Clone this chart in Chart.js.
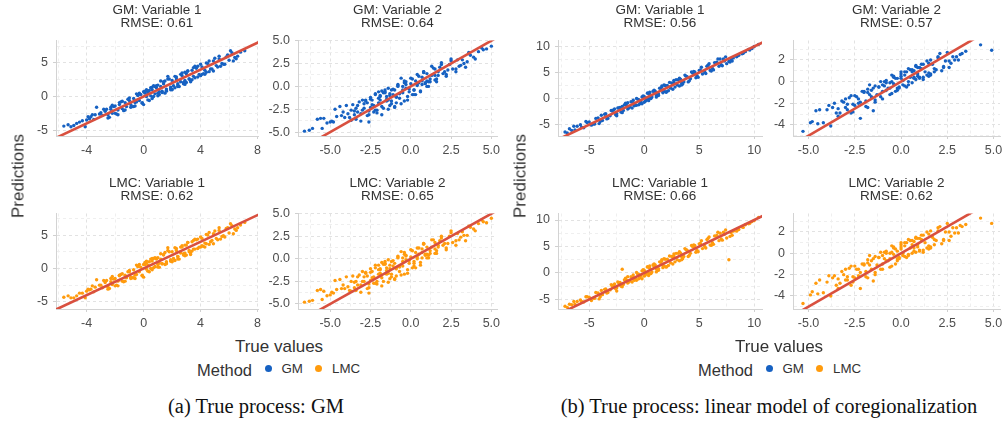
<!DOCTYPE html>
<html>
<head>
<meta charset="utf-8">
<script src="https://cdn.jsdelivr.net/npm/chart.js@4.4.1/dist/chart.umd.min.js"></script>
<style>
  body { margin: 0; width: 1005px; height: 424px; position: relative; overflow: hidden; background: #fff; font-family: "Liberation Sans", Arial, sans-serif; color: #333; }
  canvas.plot { position: absolute; }
  .ttl { position: absolute; transform: translateX(-50%); text-align: center; font-size: 13.5px; line-height: 13.7px; color: #333; white-space: nowrap; }
  .axt { position: absolute; font-size: 17px; line-height: 17px; color: #333; white-space: nowrap; }
  .ylab { transform: translate(-50%, -50%) rotate(-90deg); }
  .xlab { transform: translateX(-50%); }
  .leg { position: absolute; white-space: nowrap; color: #333; }
  .leg.m { font-size: 16.5px; line-height: 16.5px; }
  .leg.k { font-size: 13.3px; line-height: 13px; }
  .leg.dot { width: 7px; height: 7px; border-radius: 50%; }
  .cap { position: absolute; transform: translateX(-50%); font-family: "Liberation Serif", "Times New Roman", serif; font-size: 20.5px; line-height: 20.5px; color: #111; white-space: nowrap; }
</style>
</head>
<body>
<script>
// (a) true process GM: true values and predictions of each method
const truthA1 = [-5.6,-5.1,-4.7,-4.3,-4.0,-3.8,-3.5,-3.3,-3.1,-2.9, -2.7,-2.5,-2.3,-2.2,-2.0,-1.8,-1.7,-1.5,-1.3,-1.2, -1.0,-0.9,-0.7,-0.6,-0.4,-0.3,-0.2,0.0,0.1,0.2, 0.4,0.5,0.6,0.8,0.9,1.0,1.2,1.3,1.4,1.6, 1.7,1.9,2.0,2.1,2.3,2.4,2.6,2.7,2.9,3.0, 3.2,3.4,3.5,3.7,3.9,4.1,4.3,4.5,4.7,4.9, 5.1,5.3,5.5,5.8,6.0,6.2,6.5,6.8,7.1,1.1, 0.3,-0.5,
  -4.5,-3.9,-3.6,-3.0,-2.6,-2.4,-2.1,-1.9,-1.6,-1.4, -1.1,-0.8,-0.5,-0.1,0.2,0.3,0.5,0.7,0.9,1.1, 1.3,1.5,1.6,1.8,2.0,2.2,2.3,2.5,2.6,2.8, 3.0,3.1,3.3,3.6,3.8,4.0,4.2,4.4,4.6,4.8, 5.0,5.2,5.6,5.9,6.3,6.6,-0.3,0.6,1.9,2.9, 1.0,-1.5,3.4,0.0,-2.3,4.1,1.4,2.4,-0.9,0.8,
  -5.3,-4.9,-4.1,-3.4,-2.8,-2.5,-2.0,-1.7,-1.3,-1.0, -0.7,-0.4,-0.1,0.2,0.4,0.7,1.0,1.2,1.5,1.7, 2.0,2.2,2.4,2.7,2.9,3.1,3.3,3.5,3.8,4.0, 4.3,4.6,4.9,5.3,5.7,6.1,6.4,-3.7,-2.2,-0.6, 0.6,1.6,2.8,3.6,4.4,5.4,0.1,1.9,-1.8,3.2];
const gmPredA1 = [-4.4,-4.5,-4.0,-3.6,-3.5,-3.3,-3.4,-1.6,-2.6,-2.8, -2.2,-2.7,-1.9,-2.5,-1.4,-2.0,-1.2,-1.8,-0.9,-1.5, -0.6,-1.2,-0.3,-0.9,0.2,-0.6,0.3,-1.2,0.5,0.0, 0.9,0.1,1.0,0.4,1.3,0.5,1.5,0.8,1.9,1.1, 3.0,1.4,2.4,1.6,2.6,1.9,2.2,3.1,2.4,3.4, 2.6,3.9,3.0,4.2,3.3,4.4,3.9,4.9,4.1,5.3, 4.6,5.6,4.9,5.9,5.4,6.5,5.6,6.6,6.8,0.7, 0.6,-0.8,
  -3.8,-3.0,-2.7,-2.4,-1.9,-3.1,-1.5,-2.6,-0.8,-2.1, -0.4,-1.5,0.4,-0.9,0.9,-0.5,1.3,0.0,1.6,0.3, 0.6,2.3,0.8,2.6,1.0,1.3,2.9,1.5,3.3,1.9, 2.1,3.8,2.4,2.8,4.5,3.1,3.4,5.0,3.7,4.1, 5.7,4.4,4.8,6.2,5.3,6.0,0.5,-0.3,1.0,3.6, 1.7,-0.7,2.5,0.7,-1.6,3.3,2.2,1.7,-1.6,1.5,
  -4.2,-4.3,-4.5,-2.7,-1.9,-3.2,-2.5,-0.9,-2.0,-0.2, -1.5,0.2,-1.0,1.0,-0.6,1.6,0.1,2.3,0.5,2.6, 1.1,3.0,1.5,3.5,1.8,3.8,2.2,4.3,2.9,4.8, 3.3,5.3,3.8,6.0,4.8,6.8,5.8,-3.0,-1.3,-1.4, 1.4,0.9,2.1,4.5,3.6,4.5,0.8,1.2,-2.7,2.6];
const lmcPredA1 = [-4.3,-4.4,-4.1,-3.7,-3.4,-3.2,-3.5,-1.7,-2.5,-2.9, -2.1,-2.8,-2.0,-2.4,-1.5,-1.9,-1.1,-1.9,-1.0,-1.4, -0.5,-1.3,-0.2,-1.0,0.3,-0.5,0.2,-1.3,0.6,-0.1, 1.0,0.0,1.1,0.3,1.4,0.6,1.4,0.7,2.0,1.0, 3.1,1.3,2.5,1.5,2.7,1.8,2.3,3.2,2.3,3.5, 2.5,4.0,2.9,4.3,3.2,4.5,3.8,5.0,4.0,5.2, 4.5,5.7,4.8,6.0,5.3,6.4,5.7,6.5,6.9,0.8, 0.5,-0.9,
  -3.7,-3.1,-2.6,-2.5,-1.8,-3.0,-1.6,-2.5,-0.9,-2.0, -0.5,-1.4,0.5,-1.0,0.8,-0.4,1.4,0.1,1.5,0.2, 0.7,2.4,0.7,2.5,1.1,1.2,3.0,1.4,3.2,2.0, 2.0,3.9,2.3,2.9,4.4,3.2,3.3,5.1,3.6,4.2, 5.6,4.3,4.9,6.1,5.2,6.1,0.6,-0.2,1.1,3.5, 1.6,-0.8,2.6,0.6,-1.5,3.4,2.1,1.8,-1.5,1.6,
  -4.1,-4.4,-4.4,-2.8,-1.8,-3.1,-2.6,-1.0,-1.9,-0.3, -1.4,0.3,-1.1,1.1,-0.5,1.5,0.2,2.2,0.6,2.7, 1.0,3.1,1.4,3.4,1.9,3.9,2.1,4.2,3.0,4.7, 3.2,5.4,3.7,6.1,4.7,6.7,5.9,-3.1,-1.2,-1.5, 1.5,0.8,2.2,4.4,3.7,4.4,0.9,1.1,-2.6,2.7];

const truthA2 = [-6.6,-6.1,-5.6,-5.5,-5.2,-4.9,-4.6,-4.4,-4.1,-3.9, -3.7,-3.5,-3.3,-3.1,-2.9,-2.8,-2.6,-2.5,-2.3,-2.2, -2.0,-1.9,-1.8,-1.6,-1.5,-1.3,-1.2,-1.1,-0.9,-0.8, -0.7,-0.5,-0.4,-0.3,-0.1,0.0,0.1,0.3,0.4,0.5, 0.7,0.8,1.0,1.1,1.3,1.5,1.6,1.8,2.0,2.2, 2.4,2.6,2.9,3.1,3.4,3.7,4.0,4.4,4.7,5.0, -1.7,-1.0,-0.6,-2.7,-3.0,0.2,0.9,-1.4,-2.1,1.2,
  -5.8,-5.0,-4.7,-4.3,-4.0,-3.8,-3.6,-3.4,-3.2,-3.0, -2.8,-2.7,-2.5,-2.4,-2.2,-2.1,-1.9,-1.8,-1.7,-1.5, -1.4,-1.2,-1.1,-1.0,-0.8,-0.7,-0.5,-0.4,-0.2,-0.1, 0.1,0.2,0.4,0.6,0.7,0.9,1.0,1.2,1.4,1.5, 1.7,1.9,2.1,2.3,2.5,2.8,3.0,3.3,3.6,4.2, -2.0,-1.3,-0.3,0.3,-2.6,-3.5,0.8,-1.6,1.1,-0.9,
  -6.3,-5.4,-4.8,-4.2,-3.7,-3.4,-3.1,-2.9,-2.6,-2.4, -2.2,-2.0,-1.8,-1.6,-1.4,-1.2,-1.0,-0.8,-0.6,-0.4, -0.2,0.0,0.2,0.4,0.6,0.8,1.0,1.3,1.6,1.9, 2.2,2.5,2.8,3.2,3.5,3.9,4.5,-2.5,-1.5,-0.5, 0.5,1.5,-3.3,-2.3,-1.3,-0.3,0.7,1.7,-1.9,-0.9];
const gmPredA2 = [-4.9,-4.6,-3.5,-4.6,-4.0,-3.8,-3.3,-2.2,-3.4,-3.0, -2.6,-3.1,-2.1,-3.0,-2.4,-1.6,-2.7,-1.4,-2.1,-0.9, -1.8,-1.1,-2.2,-0.6,-1.6,-0.8,-1.9,-0.3,-1.2,0.2, -0.8,0.0,-1.6,0.5,-0.3,0.3,-0.9,0.6,0.1,1.1, 0.2,1.5,0.6,0.0,1.2,1.9,0.8,2.1,1.4,1.3, 2.4,1.9,2.9,2.3,2.1,3.4,3.0,4.2,4.1,4.4, -0.7,-0.4,0.9,-1.8,-1.5,-0.4,0.4,-1.5,-2.6,0.8,
  -3.6,-3.9,-2.5,-3.2,-2.1,-3.4,-2.0,-3.6,-1.7,-2.6, -1.5,-3.2,-1.2,-2.0,-0.8,-2.9,-1.0,-0.5,-2.4,-1.1, -0.2,-1.6,-0.9,-2.3,0.1,-1.3,-0.4,0.6,-1.1,-0.6, 0.8,-0.4,0.3,-0.5,1.0,0.3,1.4,0.5,2.0,0.7, 1.2,2.4,1.6,1.8,2.8,1.9,2.2,2.5,3.7,3.8, -1.3,-2.1,0.2,-0.9,-3.1,-2.7,1.6,-0.4,0.5,-1.8,
  -4.8,-3.5,-3.9,-2.8,-3.7,-2.4,-3.8,-1.9,-3.9,-1.5, -2.6,-0.6,-3.1,-0.7,-2.5,-0.4,-2.2,0.0,-1.9,0.4, -1.5,0.9,-0.9,1.3,-0.6,1.6,0.0,2.2,0.5,2.6, 1.1,3.0,1.6,2.9,2.7,3.2,4.0,-2.3,-1.4,-0.7, 0.4,1.2,-2.8,-2.8,-1.0,-0.2,0.6,1.6,-1.5,-1.1];
const lmcPredA2 = [-4.8,-4.6,-3.4,-4.5,-4.1,-3.7,-3.4,-2.3,-3.3,-3.1, -2.5,-3.2,-2.0,-2.9,-2.5,-1.5,-2.8,-1.5,-2.0,-1.0, -1.7,-1.2,-2.1,-0.5,-1.7,-0.7,-2.0,-0.2,-1.1,0.3, -0.9,0.1,-1.7,0.4,-0.2,0.2,-1.0,0.7,0.0,1.2, 0.1,1.6,0.5,0.1,1.3,1.8,0.9,2.0,1.5,1.2, 2.5,1.8,2.8,2.4,2.0,3.5,3.1,4.3,4.0,4.5, -0.6,-0.5,0.8,-1.9,-1.4,-0.3,0.5,-1.6,-2.5,0.9,
  -3.5,-4.0,-2.4,-3.3,-2.0,-3.5,-1.9,-3.5,-1.8,-2.5, -1.6,-3.3,-1.1,-2.1,-0.7,-2.8,-1.1,-0.4,-2.5,-1.0, -0.1,-1.7,-0.8,-2.2,0.2,-1.4,-0.3,0.7,-1.2,-0.5, 0.9,-0.5,0.2,-0.4,1.1,0.4,1.3,0.6,2.1,0.6, 1.3,2.3,1.7,1.7,2.9,2.0,2.1,2.6,3.6,3.9, -1.2,-2.2,0.3,-1.0,-3.2,-2.6,1.7,-0.3,0.4,-1.9,
  -4.7,-3.6,-3.8,-2.9,-3.6,-2.5,-3.7,-2.0,-3.8,-1.4, -2.7,-0.7,-3.0,-0.6,-2.6,-0.3,-2.3,0.1,-1.8,0.5, -1.6,1.0,-0.8,1.2,-0.7,1.7,0.1,2.1,0.6,2.5, 1.0,3.1,1.5,3.0,2.6,3.3,4.1,-2.4,-1.3,-0.8, 0.5,1.1,-2.9,-2.7,-1.1,-0.1,0.7,1.5,-1.6,-1.0];

// (b) true process: linear model of coregionalization
const truthB1 = [-7.2,-6.6,-6.1,-5.5,-5.0,-4.6,-4.2,-3.8,-3.5,-3.1, -2.8,-2.5,-2.2,-1.9,-1.6,-1.3,-1.0,-0.8,-0.5,-0.3, 0.0,0.2,0.5,0.7,1.0,1.3,1.5,1.8,2.1,2.4, 2.7,3.0,3.3,3.6,3.9,4.2,4.5,4.8,5.1,5.5, 5.8,6.2,6.6,7.0,7.3,7.7,8.1,8.6,9.2,10.0, -0.2,0.4,1.1,-1.4,2.6,-2.0,3.4,0.9,-0.9,1.7, 10.4,6.9,
  -6.8,-6.3,-5.8,-5.2,-4.8,-4.4,-4.0,-3.6,-3.3,-2.9, -2.6,-2.3,-2.1,-1.8,-1.5,-1.2,-0.9,-0.6,-0.4,-0.1, 0.1,0.3,0.6,0.8,1.2,1.4,1.7,1.9,2.2,2.5, 2.8,3.1,3.5,3.8,4.1,4.4,4.7,5.0,5.3,5.7, 6.0,6.4,6.8,7.2,7.5,7.9,8.4,8.9,9.5,9.8, 0.0,-1.0,1.6,2.0,-2.4,3.2,-0.7,0.5,4.6,-3.0,
  -7.0,-6.4,-5.7,-5.3,-4.5,-3.9,-3.4,-2.7,-2.0,-1.7, -1.1,-0.7,-0.2,0.3,0.6,0.9,1.3,1.6,2.0,2.3, 2.6,2.9,3.2,3.7,4.0,4.3,4.9,5.2,5.6,5.9, 6.3,6.7,7.1,7.4,8.0,8.5,9.0,9.6,-4.1,-1.5, 0.4,1.8,3.4,4.5,6.1,-2.5,-0.5,1.1,2.7,7.8];
const gmPredB1 = [-6.4,-6.1,-5.3,-5.6,-4.5,-4.9,-3.7,-4.2,-2.9,-3.3, -2.2,-2.9,-1.7,-2.3,-1.3,-1.6,-0.8,-1.2,-0.2,-0.6, 0.4,-0.2,0.8,0.3,1.4,0.9,1.9,1.4,2.5,2.0, 3.1,2.6,3.7,3.2,4.2,3.8,4.9,4.4,5.5,5.1, 6.4,5.8,7.0,6.5,7.2,7.1,7.8,8.3,9.0,10.0, 0.3,0.0,0.7,-1.8,2.9,-1.5,3.0,1.3,-1.3,1.3, 10.4,7.6,
  -5.8,-6.0,-5.0,-4.6,-5.1,-3.8,-4.4,-3.0,-3.8,-2.4, -3.1,-1.8,-2.6,-1.2,-2.0,-0.6,-1.4,-0.1,-1.0,0.5, -0.5,1.0,0.0,1.4,0.6,2.0,1.1,2.5,1.5,3.0, 2.2,3.6,2.8,4.3,3.4,4.9,4.0,5.4,4.7,6.2, 5.4,6.9,6.2,7.6,6.7,7.5,8.0,8.6,9.4,9.6, -0.7,-0.3,2.2,1.2,-1.8,3.9,-1.3,1.2,5.1,-2.3,
  -6.6,-5.3,-5.5,-4.4,-4.9,-3.2,-3.9,-2.0,-2.7,-0.9, -1.8,0.0,-1.0,1.1,0.0,1.6,0.6,2.4,1.3,3.1, 1.8,3.6,2.4,4.5,3.2,5.1,4.1,6.0,4.8,6.7, 5.5,7.6,6.3,8.0,7.2,8.2,8.7,9.3,-4.8,-0.8, -0.4,2.6,2.6,5.2,5.3,-3.3,-1.2,0.3,3.5,7.0];
const lmcPredB1 = [-6.3,-6.0,-5.4,-5.5,-4.6,-4.8,-3.8,-4.1,-3.0,-3.2, -2.3,-2.8,-1.8,-2.2,-1.4,-1.5,-0.9,-1.1,-0.3,-0.5, 0.5,-0.1,0.9,0.2,1.5,0.8,2.0,1.3,2.6,1.9, 3.2,2.5,3.8,3.1,4.3,3.7,5.0,4.3,5.6,5.0, 6.5,5.7,7.1,6.4,7.3,2.5,7.9,8.2,9.1,9.9, 0.4,-0.1,0.8,-1.7,3.0,0.7,3.1,1.2,-1.4,1.4, 10.5,7.5,
  -5.9,-5.9,-5.1,-4.5,-5.2,-3.7,-4.5,-3.1,-3.7,-2.5, -3.0,-1.9,-2.5,-1.3,-1.9,-0.7,-1.3,-0.2,-0.9,0.6, -0.4,1.1,-0.1,1.5,0.5,2.1,1.0,2.6,1.4,3.1, 2.1,3.7,2.7,4.4,3.3,5.0,3.9,5.5,4.6,6.3, 5.3,7.0,6.1,7.7,6.6,7.6,7.9,8.7,9.3,9.7, -0.6,-0.4,2.3,1.1,-1.7,4.0,-1.4,1.3,5.2,-2.2,
  -6.5,-5.4,-5.4,-4.5,-4.8,-3.3,-3.8,-2.1,-2.6,-1.0, -1.7,0.1,-1.1,1.2,-0.1,1.7,0.5,2.5,1.2,3.2, 1.7,3.7,2.3,4.6,3.1,5.2,4.0,6.1,4.7,6.8, 5.4,7.7,6.2,8.1,7.1,8.3,8.6,9.4,-4.9,-0.7, -0.5,2.7,2.5,5.3,5.2,-3.4,-1.1,0.2,3.6,6.9];

const truthB2 = [-5.3,-4.8,-4.5,-4.0,-3.8,-3.6,-3.3,-3.1,-2.9,-2.7, -2.5,-2.3,-2.1,-1.9,-1.8,-1.6,-1.4,-1.3,-1.1,-1.0, -0.8,-0.7,-0.5,-0.4,-0.2,-0.1,0.0,0.1,0.3,0.4, 0.5,0.7,0.8,0.9,1.1,1.2,1.4,1.5,1.7,1.9, 2.1,2.3,2.5,2.7,3.0,3.3,4.3,4.9,-0.6,0.2, 0.6,-1.5,-2.2,1.0,-0.3,0.9,-3.4,-2.6,1.6,0.0,
  -4.6,-4.2,-3.9,-3.5,-3.2,-3.0,-2.8,-2.6,-2.4,-2.2, -2.0,-1.9,-1.7,-1.5,-1.4,-1.2,-1.1,-0.9,-0.8,-0.6, -0.5,-0.3,-0.2,0.0,0.1,0.2,0.4,0.5,0.6,0.8, 0.9,1.0,1.2,1.3,1.5,1.6,1.8,2.0,2.2,2.4, 2.6,2.8,3.1,3.5,-1.0,-0.4,0.3,0.7,1.1,-1.8,
  -4.9,-4.4,-3.7,-3.4,-3.0,-2.7,-2.5,-2.3,-2.0,-1.8, -1.6,-1.4,-1.2,-1.0,-0.8,-0.6,-0.4,-0.2,0.0,0.2, 0.4,0.6,0.8,1.0,1.2,1.4,1.6,1.8,2.0,2.3, 2.6,2.9,3.2,-2.9,-1.7,-0.9,-0.1,0.7,1.5,-0.5];
const gmPredB2 = [-4.6,-3.7,-3.9,-2.6,-4.1,-2.0,-2.9,-1.9,-2.6,-1.3, -2.2,-1.6,-0.9,-1.8,-0.7,-1.4,-0.4,-1.2,0.0,-0.9, -0.1,-0.6,0.6,-0.2,0.3,-0.5,0.7,0.1,0.9,-0.3, 1.1,0.3,1.5,0.5,1.2,0.2,1.9,0.8,1.6,1.1, 2.6,1.4,2.7,1.7,2.3,2.6,3.4,2.9,-0.6,0.6, 0.9,-2.7,-3.4,0.4,-0.9,1.3,-2.5,-2.1,0.7,0.3,
  -2.7,-3.8,-2.2,-2.9,-1.8,-2.4,-1.5,-2.8,-1.4,-1.9, -0.9,-2.3,-1.2,-0.6,-1.7,-0.5,-1.4,0.0,-0.8,-0.1, -1.1,0.3,-0.6,0.5,-0.3,0.9,0.0,0.4,1.1,0.2, 0.7,1.3,0.4,0.9,1.7,0.6,1.2,2.2,1.0,1.9, 1.3,2.3,2.0,2.8,-0.3,0.4,-0.5,0.4,1.6,-1.0,
  -3.8,-2.6,-2.4,-3.2,-1.6,-2.9,-1.3,-2.0,-1.0,-2.4, -0.8,-1.9,-0.5,-1.6,0.1,-1.2,0.5,-0.8,0.9,-0.4, 1.2,-0.1,1.4,0.3,1.6,0.6,2.0,0.9,2.3,1.3, 1.9,2.0,2.5,-2.1,-0.3,-0.4,-0.6,1.0,0.5,0.0];
const lmcPredB2 = [-4.7,-3.6,-3.8,-2.7,-4.0,-2.1,-2.8,-2.0,-2.5,-1.2, -2.3,-1.5,-1.0,-1.7,-0.6,-1.5,-0.3,-1.1,0.1,-1.0, 0.0,-0.7,0.7,-0.1,0.2,-0.4,0.8,0.0,1.0,-0.2, 1.2,0.2,1.4,0.6,1.3,0.1,2.0,0.7,1.5,1.2, 2.5,1.3,2.8,1.6,2.4,2.5,3.3,2.8,-0.5,0.7, 0.8,-2.6,-3.3,0.3,-1.0,1.4,-2.4,-2.2,0.6,0.4,
  -2.8,-3.7,-2.1,-3.0,-1.7,-2.5,-1.4,-2.7,-1.5,-1.8, -1.0,-2.2,-1.1,-0.5,-1.8,-0.4,-1.5,0.1,-0.7,0.0, -1.2,0.4,-0.5,0.6,-0.2,1.0,-0.1,0.5,1.2,0.1, 0.8,1.4,0.3,1.0,1.8,0.5,1.3,2.1,0.9,2.0, 1.2,2.4,1.9,2.7,-0.2,0.5,-0.4,0.5,1.7,-0.9,
  -3.9,-2.5,-2.3,-3.3,-1.5,-3.0,-1.2,-2.1,-1.1,-2.3, -0.7,-2.0,-0.4,-1.5,0.2,-1.3,0.6,-0.7,1.0,-0.3, 1.3,0.0,1.5,0.2,1.7,0.5,2.1,0.8,2.4,1.2, 2.0,1.9,2.6,-2.2,-0.2,-0.5,-0.5,1.1,0.4,0.1];

const rmseA = [0.61, 0.64, 0.62, 0.65];
const rmseB = [0.56, 0.57, 0.66, 0.62];

// tick labels
const xTicksV1A = ['-4', '0', '4', '8'];
const yTicksV1A = ['-5', '0', '5'];
const ticksV2 = ['-5.0', '-2.5', '0.0', '2.5', '5.0'];
const ticksV1B = ['-5', '0', '5', '10'];
const yTicksV2B = ['-4', '-2', '0', '2'];

const BLUE = '#1661c2';
const ORANGE = '#ff9b0d';
const RED = '#d9503f';

const panels = [
  { name: 'GM: Variable 1',  rmse: rmseA[0], xs: truthA1, ys: gmPredA1,  color: BLUE,   left: 56,  top: 38,  w: 202, h: 98, xLim: [-6.15, 8.03], yLim: [-5.87, 8.33], xT: xTicksV1A, yT: yTicksV1A },
  { name: 'GM: Variable 2',  rmse: rmseA[1], xs: truthA2, ys: gmPredA2,  color: BLUE,   left: 298, top: 38,  w: 199, h: 98, xLim: [-7.0, 5.35],  yLim: [-5.43, 5.02], xT: ticksV2,   yT: ticksV2 },
  { name: 'LMC: Variable 1', rmse: rmseA[2], xs: truthA1, ys: lmcPredA1, color: ORANGE, left: 56,  top: 211, w: 202, h: 98, xLim: [-6.15, 8.03], yLim: [-6.07, 8.23], xT: xTicksV1A, yT: yTicksV1A },
  { name: 'LMC: Variable 2', rmse: rmseA[3], xs: truthA2, ys: lmcPredA2, color: ORANGE, left: 298, top: 211, w: 199, h: 98, xLim: [-7.0, 5.35],  yLim: [-5.56, 5.02], xT: ticksV2,   yT: ticksV2 },
  { name: 'GM: Variable 1',  rmse: rmseB[0], xs: truthB1, ys: gmPredB1,  color: BLUE,   left: 558, top: 38,  w: 204, h: 98, xLim: [-7.84, 10.71], yLim: [-7.18, 11.14], xT: ticksV1B, yT: ticksV1B },
  { name: 'GM: Variable 2',  rmse: rmseB[1], xs: truthB2, ys: gmPredB2,  color: BLUE,   left: 793, top: 38,  w: 207, h: 98, xLim: [-5.84, 5.35],  yLim: [-5.03, 3.80],  xT: ticksV2,  yT: yTicksV2B },
  { name: 'LMC: Variable 1', rmse: rmseB[2], xs: truthB1, ys: lmcPredB1, color: ORANGE, left: 558, top: 211, w: 204, h: 98, xLim: [-7.84, 10.71], yLim: [-6.81, 11.23], xT: ticksV1B, yT: ticksV1B },
  { name: 'LMC: Variable 2', rmse: rmseB[3], xs: truthB2, ys: lmcPredB2, color: ORANGE, left: 793, top: 211, w: 207, h: 98, xLim: [-5.84, 5.35],  yLim: [-5.22, 3.73],  xT: ticksV2,  yT: yTicksV2B }
];

const tickFont = { family: '"Liberation Sans", Arial, sans-serif', size: 12.5 };

function makeAxis(lim, labels, fitKey, fitVal, pad) {
  const majors = labels.map(Number);
  const step = majors[1] - majors[0];
  const minors = [majors[0] - step / 2].concat(majors.map(v => v + step / 2));
  const all = majors.concat(minors).filter(v => v >= lim[0] - 1e-9 && v <= lim[1] + 1e-9).sort((a, b) => a - b);
  const majorIndex = v => majors.findIndex(m => Math.abs(m - v) < 1e-6);
  return {
    type: 'linear',
    min: lim[0],
    max: lim[1],
    afterBuildTicks: s => { s.ticks = all.map(v => ({ value: v })); },
    afterFit: s => { s[fitKey] = fitVal; },
    ticks: {
      autoSkip: false,
      maxRotation: 0,
      padding: pad,
      color: '#4d4d4d',
      font: tickFont,
      callback: v => { const i = majorIndex(v); return i < 0 ? '' : labels[i]; }
    },
    grid: {
      lineWidth: 1,
      color: c => (c.tick && majorIndex(c.tick.value) >= 0) ? '#e2e2e2' : '#efefef',
      tickColor: c => (c.tick && majorIndex(c.tick.value) >= 0) ? '#d0d0d0' : 'rgba(0,0,0,0)',
      tickLength: 3
    },
    border: { color: '#d3d3d3', width: 1, dash: [3, 3] }
  };
}

function addText(cls, text, left, top, style) {
  const d = document.createElement('div');
  d.className = cls;
  d.textContent = text;
  d.style.left = left + 'px';
  d.style.top = top + 'px';
  if (style) Object.assign(d.style, style);
  document.body.appendChild(d);
  return d;
}

panels.forEach(p => {
  const yW = 40, xH = 26, padT = 10, padR = 10;
  const canvas = document.createElement('canvas');
  canvas.className = 'plot';
  canvas.width = yW + p.w + padR;
  canvas.height = padT + p.h + xH;
  canvas.style.width = canvas.width + 'px';
  canvas.style.height = canvas.height + 'px';
  canvas.style.left = (p.left - yW) + 'px';
  canvas.style.top = (p.top - padT) + 'px';
  document.body.appendChild(canvas);

  // panel title
  const t = addText('ttl', '', p.left + p.w / 2, p.top - 35.4);
  t.innerHTML = p.name + '<br>RMSE: ' + p.rmse.toFixed(2);

  // identity line spans the whole panel
  const lo = Math.min(p.xLim[0], p.yLim[0]);
  const hi = Math.max(p.xLim[1], p.yLim[1]);

  new Chart(canvas, {
    type: 'scatter',
    data: {
      datasets: [
        {
          data: p.xs.map((x, i) => ({ x, y: p.ys[i] })),
          backgroundColor: p.color,
          borderWidth: 0,
          pointRadius: 1.7,
          order: 1
        },
        {
          type: 'line',
          data: [{ x: lo, y: lo }, { x: hi, y: hi }],
          borderColor: RED,
          borderWidth: 2.6,
          pointRadius: 0,
          fill: false,
          clip: 0,
          order: 0
        }
      ]
    },
    options: {
      responsive: false,
      animation: false,
      events: [],
      layout: { padding: { top: padT, right: padR, left: 0, bottom: 0 } },
      plugins: { legend: { display: false }, tooltip: { enabled: false } },
      scales: {
        x: makeAxis(p.xLim, p.xT, 'height', xH, 4),
        y: makeAxis(p.yLim, p.yT, 'width', yW, 5)
      }
    }
  });
});

// shared axis titles, legends, captions
[18, 520].forEach(cx => addText('axt ylab', 'Predictions', cx, 176));
[279, 779].forEach(cx => addText('axt xlab', 'True values', cx, 337.5));

const legendNames = ['GM', 'LMC'];
const legendColors = [BLUE, ORANGE];
[197, 698].forEach(x0 => {
  addText('leg m', 'Method', x0, 361.5);
  legendNames.forEach((n, i) => {
    const dx = i * 50.5;
    addText('leg dot', '', x0 + 67.5 + dx, 364.8, { background: legendColors[i] });
    addText('leg k', n, x0 + 84.5 + dx, 362.3);
  });
});

addText('cap', '(a) True process: GM', 256, 395.5);
addText('cap', '(b) True process: linear model of coregionalization', 769, 395.5);
</script>
</body>
</html>
